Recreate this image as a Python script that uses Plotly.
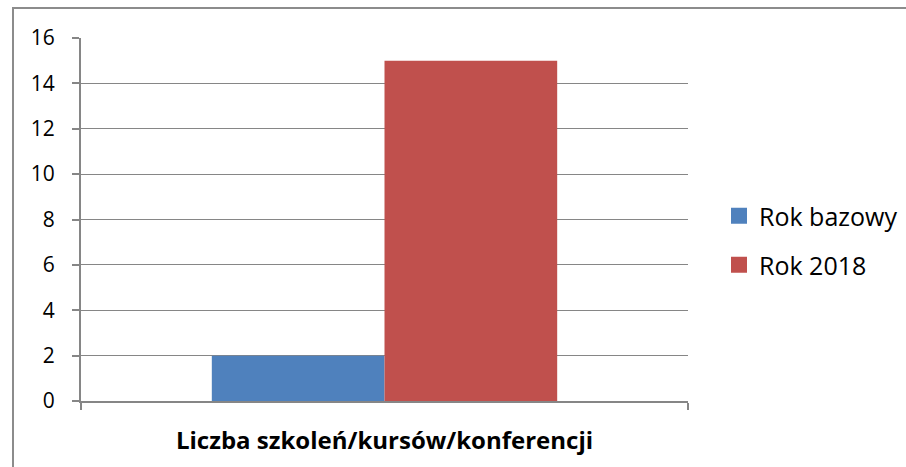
import plotly.graph_objects as go

categories = ["Liczba szkoleń/kursów/konferencji"]
series_names = ["Rok bazowy", "Rok 2018"]
values_base = [2]
values_2018 = [15]
colors = ["#4F81BD", "#C0504D"]
y_ticks = [0, 2, 4, 6, 8, 10, 12, 14, 16]

FONT = "Open Sans"
W, H = 906, 467
L, R, T, B = 81, 218, 38, 66
pw, ph = W - L - R, H - T - B

fig = go.Figure()
for name, vals, col in zip(series_names, [values_base, values_2018], colors):
    fig.add_trace(go.Bar(x=categories, y=vals, name=name, marker=dict(color=col, line=dict(width=0)),
                         showlegend=False))

# legend entries (square swatches) in two separately placed legends
for i, (name, col) in enumerate(zip(series_names, colors)):
    fig.add_trace(go.Scatter(x=[None], y=[None], mode="markers", name=name,
                             marker=dict(symbol="square", size=16, color=col),
                             legend="legend" if i == 0 else "legend2"))

def px_x(p):
    return (p - L) / pw

def px_y(p):
    return 1 - (p - T) / ph

leg_font = dict(family=FONT, size=25, color="#000000")
fig.update_layout(
    width=W, height=H,
    margin=dict(l=L, r=R, t=T, b=B, autoexpand=False),
    paper_bgcolor="white", plot_bgcolor="white",
    barmode="group", bargap=0.431, bargroupgap=0,
    font=dict(family=FONT, color="#000000"),
    legend=dict(x=px_x(719), y=px_y(216), xanchor="left", yanchor="middle",
                font=leg_font, bgcolor="rgba(0,0,0,0)", itemclick=False),
    legend2=dict(x=px_x(719), y=px_y(265), xanchor="left", yanchor="middle",
                 font=leg_font, bgcolor="rgba(0,0,0,0)", itemclick=False),
    xaxis=dict(showgrid=False, showline=True, linecolor="#868686", linewidth=2,
               ticks="outside", tickson="boundaries", ticklen=7, tickcolor="#868686", tickwidth=2,
               tickfont=dict(family=FONT, size=24, weight="bold"), ticklabelstandoff=17,
               automargin=False),
    yaxis=dict(range=[0, 16], tickvals=y_ticks, showgrid=True, gridcolor="#868686", gridwidth=1.3,
               showline=True, linecolor="#868686", linewidth=2, zeroline=False,
               ticks="outside", ticklen=7, tickcolor="#868686", tickwidth=2,
               tickfont=dict(family=FONT, size=21), ticklabelstandoff=13, automargin=False),
    shapes=[dict(type="rect", xref="paper", yref="paper",
                 x0=px_x(13), x1=px_x(W + 20), y0=px_y(H + 20), y1=px_y(8),
                 line=dict(color="#8C8C8C", width=2), fillcolor="rgba(0,0,0,0)", layer="below")],
)

fig.write_html("out.html", config={"displayModeBar": False},
               post_script="document.body.style.margin='0';")
